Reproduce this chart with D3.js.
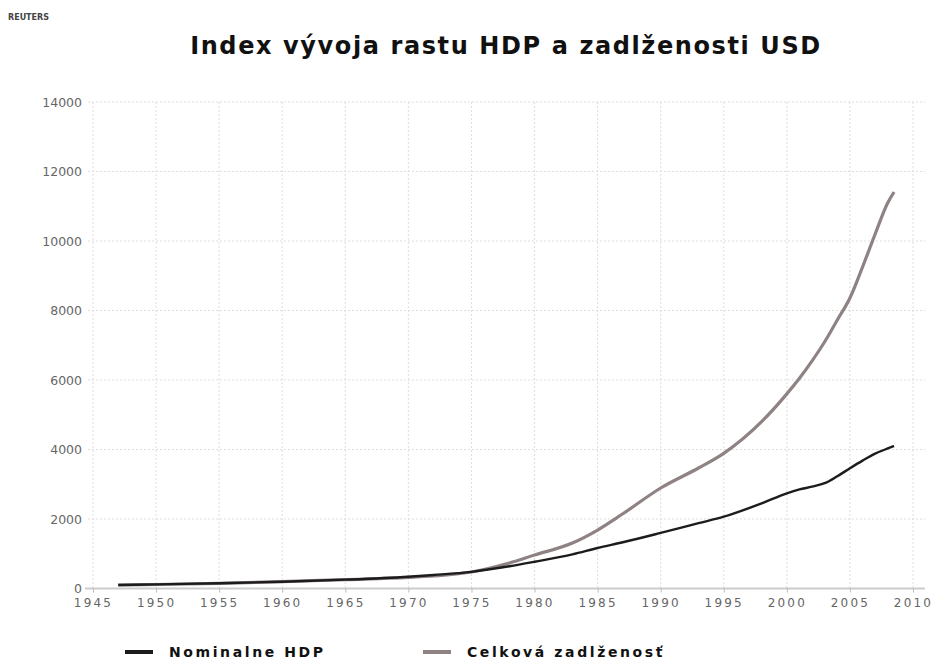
<!DOCTYPE html>
<html>
<head>
<meta charset="utf-8">
<script src="https://cdn.jsdelivr.net/npm/d3@7"></script>
<style>
  body { margin: 0; background: #fff; }
  svg { display: block; }
  .tick text { font-family: "DejaVu Sans", sans-serif; fill: #666; }
</style>
</head>
<body>
<svg id="main" width="934" height="659"></svg>
<script>
var years = [1947, 1950, 1955, 1960, 1965, 1970, 1972, 1975, 1978, 1980, 1983, 1985, 1987,
             1990, 1993, 1995, 1998, 2000, 2001, 2002, 2003, 2004, 2005, 2006, 2007, 2008, 2008.5];
var hdp = [100, 120, 150, 195, 255, 340, 390, 480, 640, 770, 980, 1165, 1330,
           1600, 1880, 2066, 2450, 2740, 2850, 2930, 3030, 3230, 3460, 3680, 3880, 4030, 4100];
var dlh = [100, 115, 150, 195, 255, 320, 360, 475, 734, 964, 1309, 1683, 2150,
           2892, 3468, 3890, 4800, 5600, 6050, 6550, 7100, 7727, 8360, 9252, 10200, 11100, 11410];
var xTicks = d3.range(1945, 2011, 5);
var yTicks = d3.range(0, 14001, 2000);
var seriesNames = ["Nominalne HDP", "Celková zadlženosť"];

var svg = d3.select("#main");

var x = d3.scaleLinear().domain([1945, 2010]).range([93, 913]);
var y = d3.scaleLinear().domain([0, 14000]).range([588.5, 102]);

// reuters tag
svg.append("text")
    .attr("x", 8).attr("y", 20)
    .attr("font-family", "DejaVu Sans")
    .attr("font-weight", "bold")
    .attr("font-size", "8px")
    .attr("fill", "#444")
    .text("REUTERS");

// title
svg.append("text")
    .attr("x", 506).attr("y", 54)
    .attr("text-anchor", "middle")
    .attr("font-family", "DejaVu Sans")
    .attr("font-weight", "bold")
    .attr("font-size", "24px")
    .attr("letter-spacing", "1.6px")
    .attr("fill", "#111")
    .text("Index vývoja rastu HDP a zadlženosti USD");

// grid
svg.append("g").selectAll("line.v")
    .data(xTicks)
    .join("line")
    .attr("x1", d => x(d)).attr("x2", d => x(d))
    .attr("y1", y(14000)).attr("y2", y(0))
    .attr("stroke", "#ddd")
    .attr("stroke-dasharray", "2,2");

svg.append("g").selectAll("line.h")
    .data(yTicks.filter(d => d > 0))
    .join("line")
    .attr("x1", 88).attr("x2", 925)
    .attr("y1", d => y(d)).attr("y2", d => y(d))
    .attr("stroke", "#ddd")
    .attr("stroke-dasharray", "2,2");

svg.append("line")
    .attr("x1", 85).attr("x2", 925)
    .attr("y1", y(0)).attr("y2", y(0))
    .attr("stroke", "#ccc")
    .attr("stroke-width", 2);

// axes
var xAxis = svg.append("g")
    .attr("transform", "translate(0," + y(0) + ")")
    .call(d3.axisBottom(x).tickValues(xTicks).tickFormat(d3.format("d")).tickSize(4).tickPadding(6));
xAxis.select(".domain").remove();
xAxis.selectAll(".tick line").attr("stroke", "#bbb");
xAxis.selectAll(".tick text")
    .attr("font-size", "12px")
    .attr("letter-spacing", "2.2px");

var yAxis = svg.append("g")
    .attr("transform", "translate(88,0)")
    .call(d3.axisLeft(y).tickValues(yTicks).tickFormat(d3.format("d")).tickSize(0).tickPadding(6));
yAxis.select(".domain").remove();
yAxis.selectAll(".tick text")
    .attr("font-size", "12.5px");

// lines
var line = d3.line()
    .x((d, i) => x(years[i]))
    .y(d => y(d))
    .curve(d3.curveMonotoneX);

svg.append("path")
    .datum(dlh)
    .attr("d", line)
    .attr("fill", "none")
    .attr("stroke", "#8f8282")
    .attr("stroke-width", 3.2)
    .attr("stroke-linejoin", "round");

svg.append("path")
    .datum(hdp)
    .attr("d", line)
    .attr("fill", "none")
    .attr("stroke", "#1c1c1c")
    .attr("stroke-width", 2.4)
    .attr("stroke-linejoin", "round");

// legend
var legend = svg.append("g");
var legendX = [125, 423];
var legendColors = ["#1c1c1c", "#8f8282"];
seriesNames.forEach(function(name, i) {
    legend.append("line")
        .attr("x1", legendX[i]).attr("x2", legendX[i] + 28)
        .attr("y1", 652).attr("y2", 652)
        .attr("stroke", legendColors[i])
        .attr("stroke-width", 4);
    legend.append("text")
        .attr("x", legendX[i] + 44).attr("y", 657)
        .attr("font-family", "DejaVu Sans")
        .attr("font-weight", "bold")
        .attr("font-size", "14px")
        .attr("letter-spacing", "2.6px")
        .attr("fill", "#111")
        .text(name);
});
</script>
</body>
</html>
